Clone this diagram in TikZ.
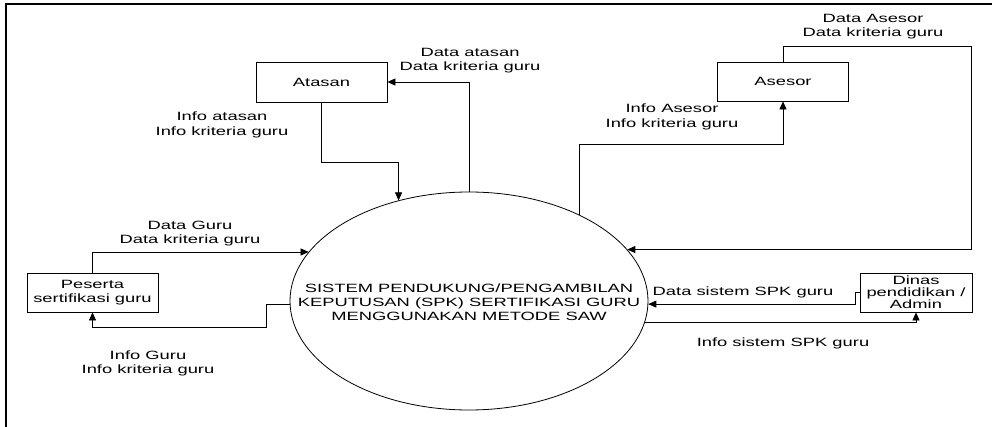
\documentclass[tikz,border=0pt]{standalone}
\usepackage{fontspec}
\setmainfont{Liberation Sans}[FakeStretch=1.53]
\usetikzlibrary{arrows.meta,shapes.geometric}
\tikzset{
	entitas/.style={draw, line width=0.8pt, minimum width=131pt, minimum height=40pt, inner sep=1pt, align=center},
	arus/.style={->, line width=0.7pt},
	ket/.style={align=center, inner sep=0pt}
}
\begin{document}
\begin{tikzpicture}[x=1pt, y=-1pt, >={Triangle[length=8pt,width=7pt]}, font=\fontsize{12}{14.5}\selectfont, line join=miter]
	\def\rx{179} \def\ry{109} % jari-jari proses
	\useasboundingbox (0,0) rectangle (992,427);
	\draw[line width=2pt] (992,4)--(6,4)--(6,427);
	% proses dan entitas
	\node[ellipse, draw, line width=0.8pt, minimum width=2*\rx pt, minimum height=2*\ry pt, inner sep=0pt] (proses) at (469,301) {};
	\node[ket, font=\fontsize{12}{14}\selectfont] (prosesteks) at (469,302) {SISTEM PENDUKUNG/PENGAMBILAN\\KEPUTUSAN (SPK) SERTIFIKASI GURU\\MENGGUNAKAN METODE SAW};
	\node[entitas] (atasan) at (321.5,82) {Atasan};
	\node[entitas, minimum height=39pt] (asesor) at (783,81.5) {Asesor};
	\node[entitas, minimum height=39pt] (peserta) at (92.5,292.5) {Peserta\\sertifikasi guru};
	\node[entitas, minimum width=112pt, minimum height=39pt, inner sep=0pt, font=\fontsize{12}{12}\selectfont] (dinas) at (916,292.5) {Dinas\\pendidikan /\\Admin};
	% arus data
	\draw[arus] (atasan.south) |- ([yshift=38pt]proses.125.3) -- (proses.125.3);
	\draw[arus] (proses.north) |- (atasan.east);
	\draw[arus] (proses.38.8) |- ([yshift=-43pt]asesor.south) -- (asesor.south);
	\draw[arus] (asesor.north) |- ++(188,-15) |- (proses.18.7);
	\draw[arus] (peserta.north) |- (proses.163.4);
	\draw[arus] (proses.181) -- ++(-23,0) |- ([yshift=-15pt]peserta.south) -- (peserta.south);
	\draw[arus] (dinas.west) -- ++(-4,0) |- (proses.-1);
	\draw[arus] (proses.-7.2) -| (dinas.south);
	% keterangan
	\node[ket] (dataatasan) at (470,60.5) {Data atasan\\Data kriteria guru};
	\node[ket] (infoatasan) at (222,125) {Info atasan\\Info kriteria guru};
	\node[ket] (dataasesor) at (873,26.5) {Data Asesor\\Data kriteria guru};
	\node[ket] (infoasesor) at (672,117) {Info Asesor\\Info kriteria guru};
	\node[ket] (dataguru) at (190,233.5) {Data Guru\\Data kriteria guru};
	\node[ket] (infoguru) at (148,363.5) {Info Guru\\Info kriteria guru};
	\node[ket] (datadinas) at (743,292) {Data sistem SPK guru};
	\node[ket] (infodinas) at (783,343) {Info sistem SPK guru};
\end{tikzpicture}
\end{document}
